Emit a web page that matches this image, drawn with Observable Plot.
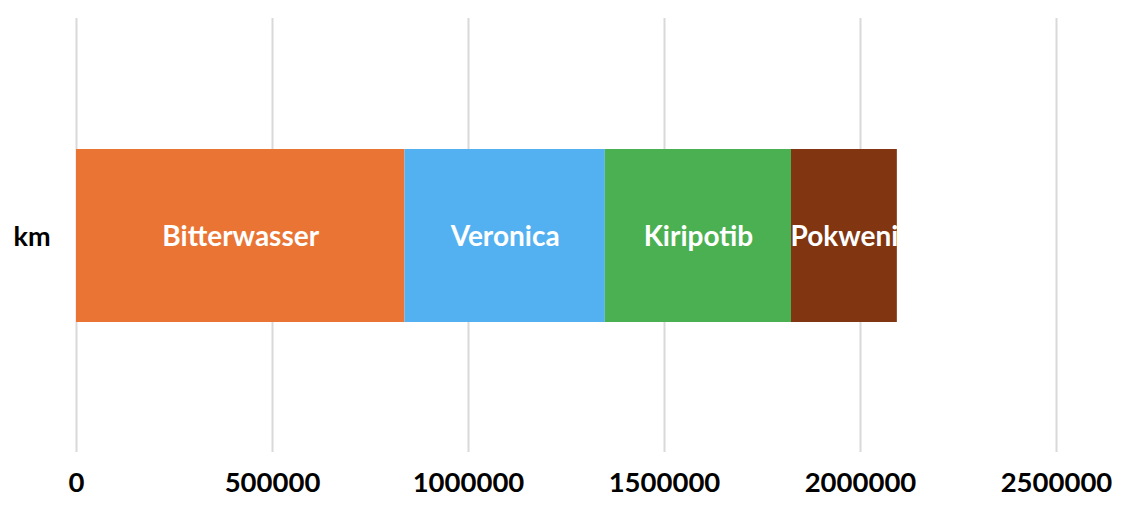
<!DOCTYPE html>
<html>
<head>
<meta charset="utf-8">
<script src="https://cdn.jsdelivr.net/npm/d3@7"></script>
<script src="https://cdn.jsdelivr.net/npm/@observablehq/plot@0.6"></script>
<style>
  html, body { margin: 0; padding: 0; background: #fff; }
  #chart { width: 1136px; height: 516px; }
  svg { font-family: Lato, "Open Sans", sans-serif; }
</style>
</head>
<body>
<div id="chart"></div>
<script>
const category = "km";
const names = ["Bitterwasser", "Veronica", "Kiripotib", "Pokweni"];
const values = [838000, 511000, 475000, 270000];
const colors = ["#E97434", "#53B1F1", "#4AB052", "#813511"];
const xTicks = [0, 500000, 1000000, 1500000, 2000000, 2500000];

const data = names.map((n, i) => ({cat: category, name: n, value: values[i]}));

const chart = Plot.plot({
  width: 1136,
  height: 516,
  marginLeft: 76,
  marginRight: 80,
  marginTop: 18,
  marginBottom: 64,
  style: {fontFamily: "Lato, sans-serif", background: "#fff"},
  x: {domain: [0, 2500000]},
  y: {domain: [category], padding: 0.43},
  color: {domain: names, range: colors},
  marks: [
    Plot.gridX(xTicks, {stroke: "#d9d9d9", strokeOpacity: 1, strokeWidth: 2}),
    Plot.barX(data, Plot.stackX({x: "value", y: "cat", fill: "name", order: null})),
    Plot.text(data, Plot.stackX({x: "value", y: "cat", text: "name", order: null,
      fill: "#fff", fontSize: 28, fontWeight: "bold", dy: 1})),
    Plot.axisX({ticks: xTicks, tickSize: 0, tickPadding: 20, tickFormat: d => String(d),
      fontSize: 27.5, fontWeight: "bold", fill: "#000", label: null}),
    Plot.axisY({tickSize: 0, tickPadding: 26, fontSize: 27, fontWeight: "bold", fill: "#000", label: null, dy: 1})
  ]
});
document.getElementById("chart").appendChild(chart);
</script>
</body>
</html>
